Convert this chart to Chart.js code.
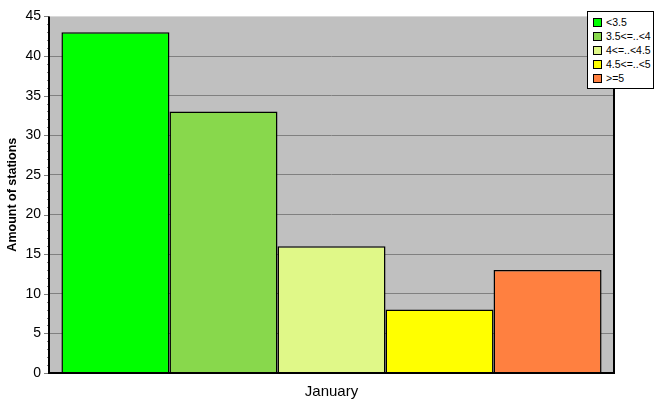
<!DOCTYPE html>
<html>
<head>
<meta charset="utf-8">
<script src="https://cdn.jsdelivr.net/npm/chart.js@4/dist/chart.umd.min.js"></script>
<style>
  body { margin: 0; background: #fff; }
  #wrap { position: relative; width: 667px; height: 415px; }
  #legend {
    position: absolute; left: 587px; top: 11px; width: 65px;
    background: #fff; border: 1px solid #000; padding: 3px 0 3px 0;
    font: 10.5px "Liberation Sans", Arial, sans-serif; color: #000;
  }
  #legend div { height: 14px; line-height: 14px; padding-left: 5px; white-space: nowrap; }
  #legend span {
    display: inline-block; width: 7px; height: 7px; border: 1px solid #000;
    margin-right: 4px; vertical-align: -1px;
  }
</style>
</head>
<body>
<div id="wrap">
  <canvas id="chart" width="667" height="415"></canvas>
  <div id="legend"></div>
</div>
<script>
const categories = ["January"];
const seriesNames = ["<3.5", "3.5<=..<4", "4<=..<4.5", "4.5<=..<5", ">=5"];
const seriesValues = [[43], [33], [16], [8], [13]];
const seriesColors = ["#00FF00", "#88D84C", "#E0F888", "#FFFF00", "#FF8040"];

const datasets = seriesNames.map((name, i) => ({
  label: name,
  data: seriesValues[i],
  backgroundColor: seriesColors[i],
  borderColor: "#000000",
  borderWidth: 1.5,
  categoryPercentage: 0.956,
  barPercentage: 1,
}));

const legend = document.getElementById("legend");
seriesNames.forEach((name, i) => {
  const row = document.createElement("div");
  const box = document.createElement("span");
  box.style.background = seriesColors[i];
  row.appendChild(box);
  row.appendChild(document.createTextNode(name));
  legend.appendChild(row);
});

// plot background, frame and minor ticks
const framePlugin = {
  id: "frame",
  beforeDraw(chart) {
    const { ctx, chartArea: a } = chart;
    ctx.save();
    ctx.fillStyle = "#C0C0C0";
    ctx.fillRect(a.left, a.top, a.right - a.left, a.bottom - a.top);
    ctx.restore();
  },
  afterDraw(chart) {
    const { ctx, chartArea: a } = chart;
    const y = chart.scales.y;
    ctx.save();
    ctx.strokeStyle = "#808080";
    ctx.lineWidth = 1;
    for (let v = 0; v <= 45; v++) {
      const p = Math.round(y.getPixelForValue(v)) + 0.5;
      const len = v % 5 === 0 ? 5 : 2;
      ctx.beginPath();
      ctx.moveTo(a.left - len, p);
      ctx.lineTo(a.left, p);
      ctx.stroke();
    }
    ctx.strokeStyle = "#000";
    ctx.lineWidth = 2;
    ctx.beginPath();
    ctx.moveTo(a.left, a.top);
    ctx.lineTo(a.left, a.bottom);
    ctx.lineTo(a.right, a.bottom);
    ctx.lineTo(a.right, a.top);
    ctx.stroke();
    ctx.restore();
  },
};

new Chart(document.getElementById("chart"), {
  type: "bar",
  data: { labels: categories, datasets: datasets },
  plugins: [framePlugin],
  options: {
    responsive: false,
    animation: false,
    layout: { padding: { left: 5, top: 16, right: 53, bottom: 0 } },
    plugins: {
      legend: { display: false },
      tooltip: { enabled: false },
    },
    scales: {
      x: {
        afterFit(scale) { scale.height = 42; },
        grid: { display: false },
        border: { display: false },
        ticks: {
          color: "#000",
          padding: 2,
          font: { family: "Liberation Sans", size: 15 },
        },
      },
      y: {
        min: 0,
        max: 45,
        afterFit(scale) { scale.width = 44; },
        title: {
          display: true,
          text: "Amount of stations",
          color: "#000",
          padding: 0,
          font: { family: "Liberation Sans", size: 12.5, weight: "bold" },
        },
        border: { display: false },
        grid: {
          drawTicks: false,
          color: (c) => (c.tick.value > 0 && c.tick.value < 45 ? "#808080" : "transparent"),
        },
        ticks: {
          stepSize: 5,
          padding: 8,
          color: "#000",
          font: { family: "Liberation Sans", size: 14 },
        },
      },
    },
  },
});
</script>
</body>
</html>
